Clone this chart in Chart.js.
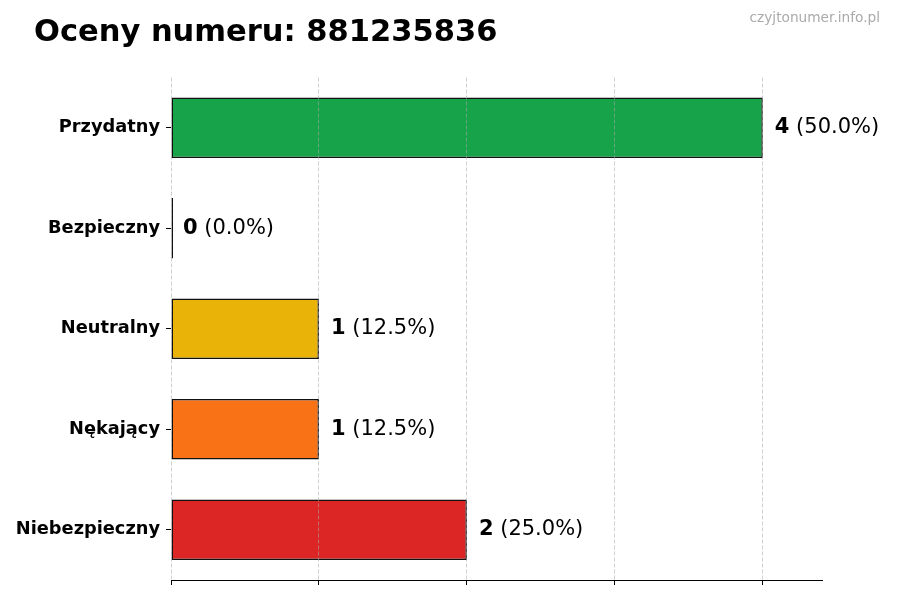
<!DOCTYPE html>
<html lang="pl">
<head>
    <meta charset="UTF-8">
    <title>Oceny numeru</title>
    <script src="https://cdn.jsdelivr.net/npm/chart.js"></script>
    <style>
        body { margin: 0; background: #fff; }
        #wrap { width: 900px; height: 600px; }
    </style>
</head>
<body>
    <div id="wrap">
        <canvas id="ratingsChart" width="900" height="600"></canvas>
    </div>

    <script>
        const phoneNumber = '881235836';
        const categories = ['Przydatny', 'Bezpieczny', 'Neutralny', 'Nękający', 'Niebezpieczny'];
        const votes = [4, 0, 1, 1, 2];
        const barColors = ['#16a34a', '#65a30d', '#eab308', '#f97316', '#dc2626'];
        const xTicks = [0, 1, 2, 3, 4];

        const totalVotes = votes.reduce((a, b) => a + b, 0);
        const fontFamily = '"DejaVu Sans", sans-serif';

        // title, watermark and "n (x%)" labels next to bars
        const labelsPlugin = {
            id: 'barLabels',
            afterDraw(chart) {
                const ctx = chart.ctx;
                ctx.save();
                ctx.fillStyle = '#000';
                ctx.textBaseline = 'alphabetic';
                ctx.textAlign = 'left';
                ctx.font = 'bold 30.5px ' + fontFamily;
                ctx.fillText('Oceny numeru: ' + phoneNumber, 34, 41);

                ctx.fillStyle = '#aaaaaa';
                ctx.textAlign = 'right';
                ctx.font = '13.7px ' + fontFamily;
                ctx.fillText('czyjtonumer.info.pl', 880, 22);

                const meta = chart.getDatasetMeta(0);
                ctx.textAlign = 'left';
                ctx.textBaseline = 'middle';
                ctx.fillStyle = '#000';
                meta.data.forEach((bar, i) => {
                    const pct = totalVotes ? (votes[i] / totalVotes * 100).toFixed(1) : '0.0';
                    const x0 = chart.scales.x.getPixelForValue(votes[i]) + 12;
                    ctx.font = 'bold 21px ' + fontFamily;
                    const boldPart = String(votes[i]);
                    ctx.fillText(boldPart, x0, bar.y);
                    const w = ctx.measureText(boldPart).width;
                    ctx.font = '21px ' + fontFamily;
                    ctx.fillText(' (' + pct + '%)', x0 + w, bar.y);
                });
                ctx.restore();
            }
        };

        new Chart(document.getElementById('ratingsChart').getContext('2d'), {
            type: 'bar',
            data: {
                labels: categories,
                datasets: [{
                    data: votes,
                    backgroundColor: barColors,
                    borderColor: '#111',
                    borderWidth: 1.5,
                    borderSkipped: false,
                    minBarLength: 2,
                    barPercentage: 0.6,
                    categoryPercentage: 1
                }]
            },
            options: {
                indexAxis: 'y',
                responsive: false,
                animation: false,
                devicePixelRatio: 1,
                layout: { padding: { top: 77.5, right: 78, left: 0, bottom: 0 } },
                plugins: {
                    legend: { display: false },
                    tooltip: { enabled: false }
                },
                scales: {
                    x: {
                        min: 0,
                        max: 4.4,
                        afterFit: (s) => { s.height = 20; },
                        afterBuildTicks: (s) => { s.ticks = xTicks.map(v => ({ value: v })); },
                        ticks: { display: false },
                        grid: {
                            z: 1,
                            color: 'rgba(170,170,170,0.55)',
                            lineWidth: 1,
                            tickColor: '#000',
                            tickLength: 5,
                            tickWidth: 1
                        },
                        border: { display: true, z: 2, color: '#000', width: 1, dash: [4, 2] }
                    },
                    y: {
                        afterFit: (s) => { s.width = 171; },
                        ticks: {
                            color: '#000',
                            padding: 6,
                            font: { family: fontFamily, size: 17.8, weight: 'bold' }
                        },
                        grid: {
                            offset: false,
                            drawOnChartArea: false,
                            tickColor: '#000',
                            tickLength: 5
                        },
                        border: { display: false }
                    }
                }
            },
            plugins: [labelsPlugin]
        });
    </script>
</body>
</html>
